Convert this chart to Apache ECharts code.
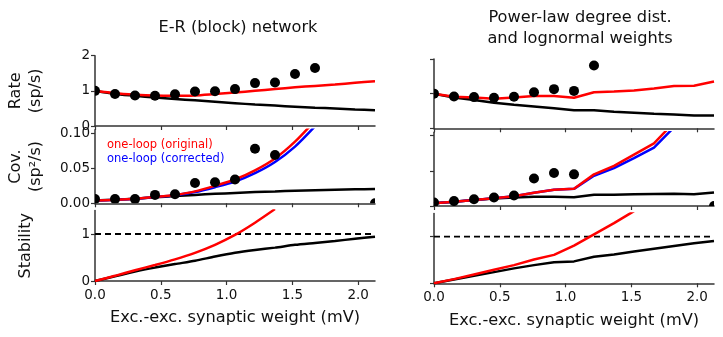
<!DOCTYPE html>
<html><head><meta charset="utf-8">
<script src="https://cdn.jsdelivr.net/npm/echarts@6/dist/echarts.min.js"></script>
<style>html,body{margin:0;padding:0;background:#fff}#c{width:723px;height:337px}</style>
</head><body><div id="c"></div>
<script>
// ---- data ----
const X = [0, 0.152, 0.304, 0.456, 0.608, 0.76, 0.912, 1.064, 1.216, 1.368, 1.52, 1.672, 1.824, 1.976, 2.128];
const xTicks = [0, 0.5, 1.0, 1.5, 2.0];
const titles = ['E-R (block) network', 'Power-law degree dist.\nand lognormal weights'];
const yNames = ['Rate\n(sp/s)', 'Cov.\n(sp²/s)', 'Stability'];
const xName = 'Exc.-exc. synaptic weight (mV)';
const legendLabels = ['one-loop (original)', 'one-loop (corrected)'];
const stabilityThreshold = 1;

// left column (E-R)
const erRateSim   = [1.0, 0.91, 0.87, 0.86, 0.90, 0.98, 0.99, 1.05, 1.22, 1.24, 1.48, 1.65];
const erRateLin   = [1.0, 0.91, 0.86, 0.81, 0.77, 0.73, 0.69, 0.65, 0.61, 0.58, 0.55, 0.52, 0.50, 0.47, 0.45];
const erRateLoop  = [1.0, 0.93, 0.89, 0.865, 0.86, 0.87, 0.91, 0.95, 1.0, 1.05, 1.10, 1.14, 1.18, 1.23, 1.27];
const erCovSim    = [0.006, 0.006, 0.006, 0.012, 0.013, 0.029, 0.030, 0.034, 0.078, 0.069, null, null, null, null, 0.0];
const erCovLin    = [0.004, 0.0052, 0.0066, 0.0085, 0.0105, 0.012, 0.0135, 0.0148, 0.016, 0.017, 0.018, 0.0187, 0.0194, 0.020, 0.0205];
const erCovLoop   = [0.004, 0.005, 0.0065, 0.009, 0.012, 0.017, 0.025, 0.034, 0.047, 0.064, 0.088, 0.118];
const erCovLoopC  = [0.004, 0.005, 0.0064, 0.0088, 0.0115, 0.016, 0.023, 0.031, 0.043, 0.059, 0.081, 0.110];
const erStabLin   = [0, 0.10, 0.20, 0.285, 0.36, 0.43, 0.52, 0.60, 0.66, 0.71, 0.77, 0.81, 0.85, 0.90, 0.94];
const erStabLoop  = [0, 0.11, 0.23, 0.34, 0.46, 0.60, 0.77, 0.98, 1.24, 1.53];

// right column (power-law / lognormal)
const plRateSim   = [1.0, 0.92, 0.90, 0.88, 0.91, 1.04, 1.13, 1.08, 1.81];
const plRateLin   = [1.0, 0.89, 0.82, 0.74, 0.68, 0.63, 0.58, 0.52, 0.52, 0.48, 0.45, 0.42, 0.40, 0.37, 0.37];
const plRateLoop  = [1.0, 0.91, 0.89, 0.85, 0.89, 0.93, 0.93, 0.88, 1.04, 1.06, 1.09, 1.15, 1.22, 1.23, 1.35];
const plCovSim    = [0.005, 0.007, 0.0095, 0.012, 0.015, 0.039, 0.047, 0.045, null, null, null, null, null, null, 0.0];
const plCovLin    = [0.004, 0.006, 0.0085, 0.0105, 0.012, 0.013, 0.013, 0.0124, 0.016, 0.016, 0.0166, 0.0171, 0.0175, 0.0166, 0.0192];
const plCovLoop   = [0.004, 0.006, 0.0085, 0.011, 0.014, 0.019, 0.023, 0.0246, 0.045, 0.057, 0.073, 0.089, 0.119];
const plCovLoopC  = [0.004, 0.006, 0.0085, 0.011, 0.014, 0.019, 0.023, 0.0244, 0.043, 0.054, 0.068, 0.083, 0.112];
const plStabLin   = [0, 0.08, 0.16, 0.24, 0.32, 0.39, 0.45, 0.47, 0.57, 0.62, 0.68, 0.74, 0.80, 0.86, 0.91];
const plStabLoop  = [0, 0.09, 0.19, 0.29, 0.39, 0.51, 0.61, 0.81, 1.05, 1.29, 1.55];

// ---- build ----
const FONT = 'DejaVu Sans';
const RED = '#ff0000', BLUE = '#0000ff', BLACK = '#000000', AX = '#333333';
const pairs = (arr) => arr.map((v, i) => [X[i], v]).filter(p => p[1] !== null && p[1] !== undefined);

const grids = [
  {left: 95, top: 55.7, width: 280, height: 70.3},
  {left: 95, top: 129.8, width: 280, height: 73.5},
  {left: 95, top: 210.5, width: 280, height: 70.5},
  {left: 434, top: 59, width: 280, height: 69.3},
  {left: 434, top: 132.2, width: 280, height: 73.8},
  {left: 434, top: 213.4, width: 280, height: 69.9}
];
const yRanges = [
  {max: 2, ticks: [0, 1, 2], fmt: v => String(v), gap: 49},
  {max: 0.105, ticks: [0, 0.05, 0.10], fmt: v => v.toFixed(2), gap: 49},
  {max: 1.5, ticks: [0, 1], fmt: v => String(v), gap: 59}
];

const xAxes = [], yAxes = [];
for (let g = 0; g < 6; g++) {
  const row = g % 3, col = Math.floor(g / 3);
  const bottom = row === 2;
  xAxes.push({
    gridIndex: g, type: 'value', min: 0, max: X[X.length - 1],
    axisLine: {show: true, onZero: false, lineStyle: {color: AX, width: 1.5}},
    axisTick: {show: true, customValues: xTicks, length: 4, lineStyle: {color: AX, width: 1.2}},
    axisLabel: {show: bottom, customValues: xTicks, formatter: v => v.toFixed(1), margin: 7,
      fontFamily: FONT, fontSize: 13.5, color: '#111'},
    splitLine: {show: false},
    name: bottom ? xName : '', nameLocation: 'middle', nameGap: 29,
    nameTextStyle: {fontFamily: FONT, fontSize: 16.2, color: '#111'}
  });
  const yr = yRanges[row];
  yAxes.push({
    gridIndex: g, type: 'value', min: 0, max: yr.max,
    axisLine: {show: true, lineStyle: {color: AX, width: 1.5}},
    axisTick: {show: true, customValues: yr.ticks, length: 4, lineStyle: {color: AX, width: 1.2}},
    axisLabel: {show: col === 0, customValues: yr.ticks, formatter: yr.fmt, margin: 5,
      fontFamily: FONT, fontSize: 13.5, color: '#111'},
    splitLine: {show: false},
    name: col === 0 ? yNames[row] : '', nameLocation: 'middle', nameRotate: 90, nameGap: yr.gap,
    nameTextStyle: {fontFamily: FONT, fontSize: 16, color: '#111', lineHeight: 20}
  });
}

const series = [];
function line(g, arr, color, name, smooth) {
  series.push({type: 'line', name: name || '', xAxisIndex: g, yAxisIndex: g, data: pairs(arr),
    showSymbol: false, symbol: 'none', smooth: smooth ? 0.25 : false, clip: true,
    lineStyle: {color: color, width: 2.5}, z: 3, silent: true, animation: false});
}
function dashed(g) {
  series.push({type: 'line', xAxisIndex: g, yAxisIndex: g,
    data: [[X[0], stabilityThreshold], [X[X.length - 1], stabilityThreshold]],
    showSymbol: false, symbol: 'none', lineStyle: {color: BLACK, width: 1.8, type: [6, 4]}, z: 2, animation: false});
}
function dots(g, arr) {
  series.push({type: 'custom', xAxisIndex: g, yAxisIndex: g, data: pairs(arr), clip: true, z: 5, animation: false,
    renderItem: (params, api) => {
      const p = api.coord([api.value(0), api.value(1)]);
      return {type: 'circle', shape: {cx: p[0], cy: p[1], r: 5}, style: {fill: BLACK}};
    }});
}
// left
line(0, erRateLin, BLACK, '', true); line(0, erRateLoop, RED, '', true); dots(0, erRateSim);
line(1, erCovLin, BLACK, '', true); line(1, erCovLoopC, BLUE, legendLabels[1], true); line(1, erCovLoop, RED, legendLabels[0], true); dots(1, erCovSim);
dashed(2); line(2, erStabLin, BLACK, '', true); line(2, erStabLoop, RED, '', true);
// right
line(3, plRateLin, BLACK); line(3, plRateLoop, RED); dots(3, plRateSim);
line(4, plCovLin, BLACK); line(4, plCovLoopC, BLUE); line(4, plCovLoop, RED); dots(4, plCovSim);
dashed(5); line(5, plStabLin, BLACK); line(5, plStabLoop, RED);

const option = {
  animation: false,
  backgroundColor: '#fff',
  title: [
    {text: titles[0], left: 233, top: 15, textAlign: 'center',
      textStyle: {fontFamily: FONT, fontSize: 16.2, fontWeight: 'normal', color: '#111'}},
    {text: titles[1], left: 575, top: 2, textAlign: 'center',
      textStyle: {fontFamily: FONT, fontSize: 16.2, fontWeight: 'normal', color: '#111', lineHeight: 21}}
  ],
  grid: grids,
  xAxis: xAxes,
  yAxis: yAxes,
  series: series,
  graphic: [
    {type: 'text', left: 107, top: 139, style: {text: legendLabels[0], fill: RED, font: '11.5px "DejaVu Sans"'}},
    {type: 'text', left: 107, top: 153, style: {text: legendLabels[1], fill: BLUE, font: '11.5px "DejaVu Sans"'}}
  ]
};
const chart = echarts.init(document.getElementById('c'), null, {renderer: 'canvas'});
chart.setOption(option);
</script>
</body></html>
